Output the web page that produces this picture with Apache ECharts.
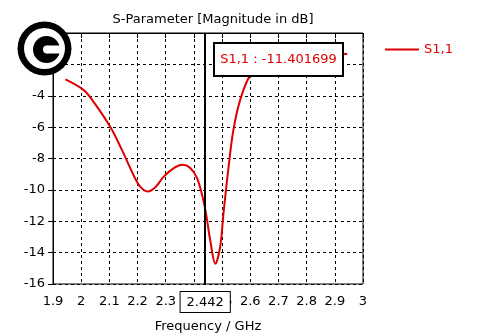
<!DOCTYPE html>
<html>
<head>
<meta charset="utf-8">
<script src="https://cdn.jsdelivr.net/npm/echarts@6/dist/echarts.min.js"></script>
<style>
  html, body { margin: 0; padding: 0; background: #fff; }
  #chart { width: 482px; height: 334px; }
</style>
</head>
<body>
<div id="chart"></div>
<script>
// S11 sweep, GHz / dB
var freq = [1.944, 2.009, 2.044, 2.103, 2.145, 2.186, 2.21, 2.237, 2.265, 2.292, 2.33, 2.361, 2.387, 2.41, 2.428, 2.442, 2.458, 2.476, 2.493, 2.505, 2.523, 2.54, 2.564, 2.6, 2.65, 2.7, 2.8, 2.9, 2.944];
var s11 = [-2.96, -3.64, -4.39, -5.98, -7.47, -9.07, -9.81, -10.1, -9.8, -9.17, -8.6, -8.4, -8.6, -9.2, -10.24, -11.40, -13.22, -14.7, -13.64, -11.5, -8.54, -6.19, -4.28, -2.7, -2.0, -1.7, -1.45, -1.35, -1.34];
var markerFreq = 2.442;
var markerText = 'S1,1 : -11.401699';
var seriesName = 'S1,1';

var font = 'DejaVu Sans';
var red = '#dd0000';

var chart = echarts.init(document.getElementById('chart'));

var points = [];
for (var i = 0; i < freq.length; i++) {
    points.push([freq[i], s11[i]]);
}

var option = {
    animation: false,
    textStyle: { fontFamily: font },
    title: {
        text: 'S-Parameter [Magnitude in dB]',
        left: 208,
        textAlign: 'center',
        top: 8,
        textStyle: { fontFamily: font, fontSize: 13, fontWeight: 'normal', color: '#000' }
    },
    legend: {
        left: 380,
        top: 38,
        icon: 'rect',
        itemWidth: 34,
        itemHeight: 2,
        itemGap: 8,
        textStyle: { fontFamily: font, fontSize: 13, color: red },
        data: [seriesName]
    },
    grid: {
        left: 53, top: 33, right: 119, bottom: 50,
        outerBoundsMode: 'none',
        containLabel: false,
        show: true, borderColor: '#000', borderWidth: 1
    },
    xAxis: {
        type: 'value',
        min: 1.9, max: 3, interval: 0.1,
        name: 'Frequency / GHz',
        nameLocation: 'middle',
        nameGap: 36,
        nameTextStyle: { fontFamily: font, fontSize: 13, color: '#000' },
        axisLine: { lineStyle: { color: '#000', width: 1 } },
        axisTick: { show: true, length: 5, lineStyle: { color: '#000' } },
        axisLabel: {
            color: '#000', fontFamily: font, fontSize: 13, margin: 11,
            formatter: function (v) { return String(+v.toFixed(1)); }
        },
        splitLine: { show: true, lineStyle: { color: '#000', type: [3, 3], width: 1 } }
    },
    yAxis: {
        type: 'value',
        min: -16, max: 0, interval: 2,
        axisLine: { show: true, lineStyle: { color: '#000', width: 1 } },
        axisTick: { show: true, length: 5, lineStyle: { color: '#000' } },
        axisLabel: {
            color: '#000', fontFamily: font, fontSize: 13, margin: 8,
            formatter: function (v) { return v > -4 ? '' : String(v); }
        },
        splitLine: { show: true, lineStyle: { color: '#000', type: [3, 3], width: 1 } }
    },
    series: [{
        name: seriesName,
        type: 'line',
        data: points,
        smooth: 0.35,
        symbol: 'none',
        lineStyle: { color: red, width: 2 },
        itemStyle: { color: red },
        markLine: {
            silent: true,
            symbol: 'none',
            lineStyle: { color: '#000', width: 2, type: 'solid' },
            label: {
                show: true,
                position: 'start',
                distance: 8,
                formatter: String(markerFreq),
                color: '#000',
                fontFamily: font,
                fontSize: 13,
                backgroundColor: '#fff',
                borderColor: '#000',
                borderWidth: 1,
                padding: [4, 6, 3, 6]
            },
            data: [{ xAxis: markerFreq }]
        },
        z: 3
    }],
    graphic: [
        // annotation box
        { type: 'rect', z: 100, shape: { x: 214, y: 43, width: 129, height: 33 },
          style: { fill: '#fff', stroke: '#000', lineWidth: 2 } },
        { type: 'text', z: 101, x: 278.5, y: 60,
          style: { text: markerText, fill: red, font: '13px "DejaVu Sans"', align: 'center', verticalAlign: 'middle' } },
        // copyright badge
        { type: 'circle', z: 100, shape: { cx: 44.5, cy: 48.5, r: 27 }, style: { fill: '#000' } },
        { type: 'circle', z: 101, shape: { cx: 44.5, cy: 48.5, r: 20.5 }, style: { fill: '#fff' } },
        { type: 'circle', z: 102, shape: { cx: 46.5, cy: 49.5, r: 13.5 }, style: { fill: '#000' } },
        { type: 'rect', z: 103, shape: { x: 47, y: 45.5, width: 16, height: 8 }, style: { fill: '#fff' } },
        { type: 'circle', z: 103, shape: { cx: 47, cy: 49.5, r: 4 }, style: { fill: '#fff' } }
    ]
};

chart.setOption(option);
</script>
</body>
</html>
